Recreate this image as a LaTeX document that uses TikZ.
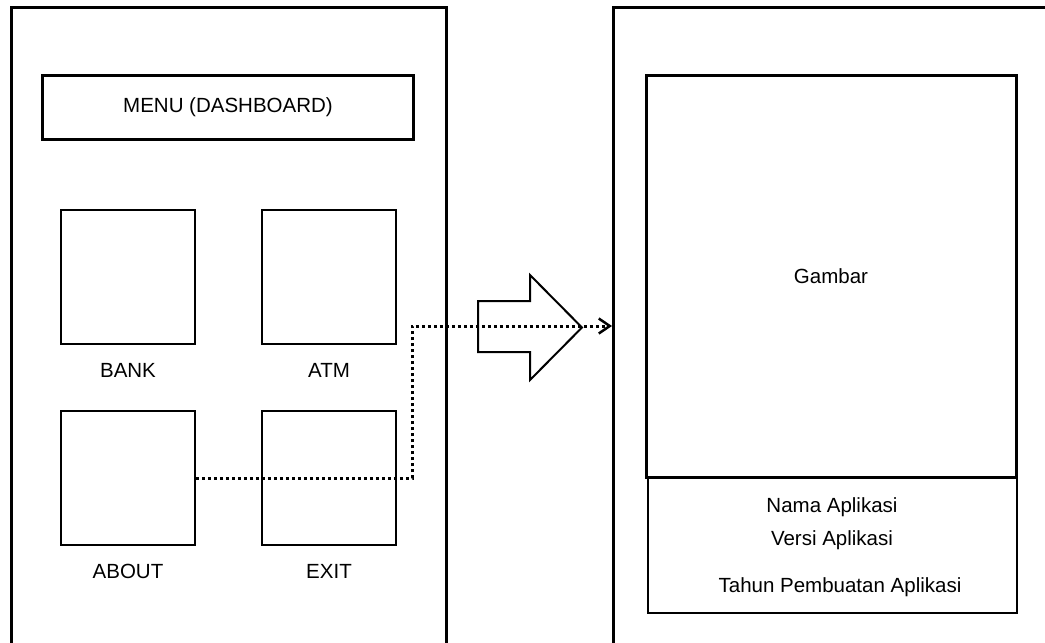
\documentclass[tikz,border=0pt]{standalone}
\usepackage{fontspec}
\setmainfont{Liberation Sans}
\usetikzlibrary{arrows.meta,positioning}

\begin{document}
\begin{tikzpicture}[x=1pt,y=-1pt,
  font=\fontsize{20.5}{24}\selectfont,
  cadre/.style={line width=3pt},
  tuile/.style={draw,line width=1.5pt,minimum width=134pt,minimum height=134pt,inner sep=0pt},
  etiq/.style={inner sep=0pt},
  pointille/.style={line width=3pt,dash pattern=on 3pt off 3pt}]
  \useasboundingbox (0,0) rectangle (1045,643);

  % Ecran de gauche : menu
  \draw[cadre] (11,643) -- (11,7) -- (446,7) -- (446,643);
  \node[draw,line width=3pt,minimum width=371pt,minimum height=64pt] (menu) at (228,107) {MENU (DASHBOARD)};

  % Tuiles du menu
  \node[tuile] (bank)  at (128,277) {};
  \node[tuile] (atm)   at (329,277) {};
  \node[tuile] (about) at (128,478) {};
  \node[tuile] (exit)  at (329,478) {};
  \node[etiq, below=18pt of bank]  (bankLbl)  {BANK};
  \node[etiq, below=18pt of atm]   (atmLbl)   {ATM};
  \node[etiq, below=18.5pt of about] (aboutLbl) {ABOUT};
  \node[etiq, below=18.5pt of exit]  (exitLbl)  {EXIT};

  % Ecran de droite : about
  \draw[cadre] (613,643) -- (613,7) -- (1050,7);
  \node[draw,line width=3pt,minimum width=370pt,minimum height=402pt] (gambar) at (831,276) {Gambar};
  \node[draw,line width=1.5pt,minimum width=369pt,minimum height=136pt] (info) at (832.5,545) {};
  \node[etiq, anchor=base] (nama)  at (832,512) {Nama Aplikasi};
  \node[etiq, anchor=base] (versi) at (832,545) {Versi Aplikasi};
  \node[etiq, anchor=base] (tahun) at (840,592) {Tahun Pembuatan Aplikasi};

  % Grande fleche
  \draw[line width=2pt] (478,301) -- (530,301) -- (530,275) -- (582,327.5)
    -- (530,380) -- (530,352) -- (478,352) -- cycle;

  % Lien ABOUT vers l'ecran de droite
  \coordinate (coude) at (412,326);
  \coordinate (cible) at (612,326);
  \draw[pointille,-{Straight Barb[length=11pt,width=15pt,line width=2.5pt]}] (about.east) -| (coude) -- (cible);
\end{tikzpicture}
\end{document}
